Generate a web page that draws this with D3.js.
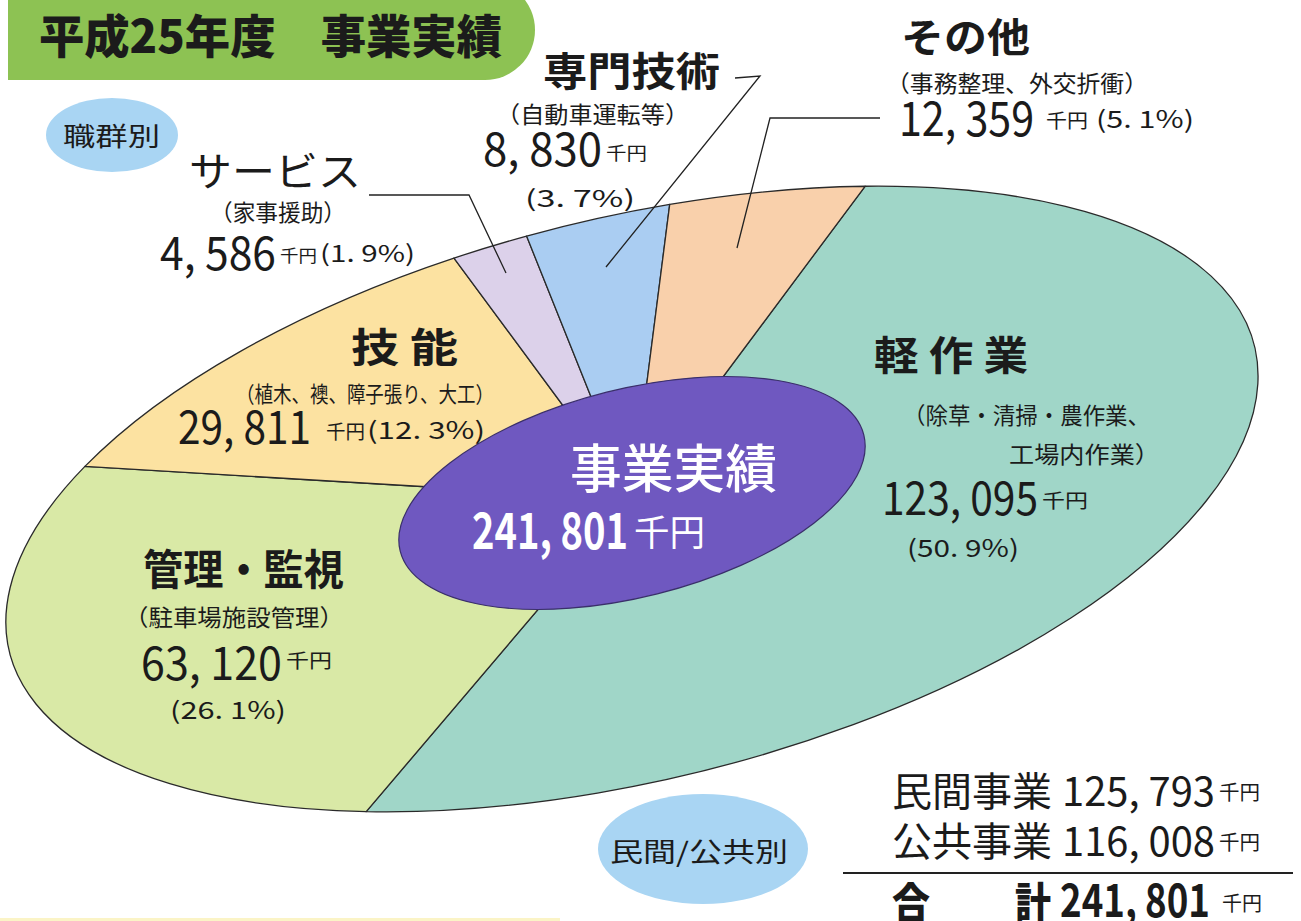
<!DOCTYPE html>
<html>
<head>
<meta charset="utf-8">
<script src="https://cdn.jsdelivr.net/npm/d3@7"></script>
<style>
body { margin: 0; background: #fff; }
svg { display: block; }
text { font-family: "Noto Sans CJK JP", "Noto Sans", sans-serif; fill: #1b1b1b; }
</style>
</head>
<body>
<div id="main"></div>
<script>
const ctx = {
    WIDTH: 1301,
    HEIGHT: 921,
};

// data (千円)
const categories = ["軽作業", "管理・監視", "技能", "サービス", "専門技術", "その他"];
const details = [
    ["（除草・清掃・農作業、", "工場内作業）"],
    ["（駐車場施設管理）"],
    ["（植木、襖、障子張り、大工）"],
    ["（家事援助）"],
    ["（自動車運転等）"],
    ["（事務整理、外交折衝）"]
];
const values = [123095, 63120, 29811, 4586, 8830, 12359];
const sliceColors = ["#a0d6c8", "#d9e9a6", "#fce2a1", "#dcd1ea", "#aacdf2", "#f9d0ab"];
const sectorNames = ["民間事業", "公共事業"];
const sectorValues = [125793, 116008];

const total = d3.sum(values);
const fmtNum = v => d3.format(",")(v).replace(/,/g, ", ");
const fmtPct = v => "(" + d3.format(".1f")(v / total * 100).replace(".", ". ") + "%)";

// tilted ellipse = unit pie stretched and rotated
const PIE = { cx: 632, cy: 499, rx: 641, ry: 281, rot: -13.8, start: 28 };
const HUB = { cx: 632, cy: 493, rx: 239, ry: 104, rot: -14.1 };

// label layout per category (x = left edge, y = baseline)
const labelLayout = [
    [ {t: "name", x: 874, y: 370, s: 40, w: 154, b: true, spaced: true},
      {t: "d0", x: 903, y: 424, s: 23, w: 247},
      {t: "d1", x: 1009, y: 463, s: 23, w: 151},
      {t: "val", x: 882, y: 515, s: 46, w: 156},
      {t: "unit", x: 1042, y: 508, s: 19, w: 46},
      {t: "pct", x: 907, y: 557, s: 24, w: 112} ],
    [ {t: "name", x: 143, y: 585, s: 42, w: 201, b: true},
      {t: "d0", x: 124, y: 626, s: 23, w: 220},
      {t: "val", x: 141, y: 680, s: 46, w: 141},
      {t: "unit", x: 286, y: 668, s: 19, w: 46},
      {t: "pct", x: 170, y: 719, s: 24, w: 116} ],
    [ {t: "name", x: 351, y: 362, s: 40, w: 107, b: true, spaced: true},
      {t: "d0", x: 236, y: 402, s: 22, w: 258},
      {t: "val", x: 178, y: 444, s: 46, w: 133},
      {t: "unit", x: 326, y: 439, s: 19, w: 39},
      {t: "pct", x: 367, y: 439, s: 24, w: 118} ],
    [ {t: "name", x: 189, y: 186, s: 40, w: 172},
      {t: "d0", x: 210, y: 221, s: 23, w: 136},
      {t: "val", x: 160, y: 270, s: 46, w: 116},
      {t: "unit", x: 280, y: 262, s: 17, w: 37},
      {t: "pct", x: 320, y: 262, s: 23, w: 95} ],
    [ {t: "name", x: 543, y: 86, s: 40, w: 177, b: true},
      {t: "d0", x: 496, y: 123, s: 23, w: 193},
      {t: "val", x: 483, y: 166, s: 46, w: 119},
      {t: "unit", x: 606, y: 160, s: 18, w: 41},
      {t: "pct", x: 525, y: 207, s: 23, w: 110} ],
    [ {t: "name", x: 901, y: 52, s: 40, w: 129, b: true},
      {t: "d0", x: 886, y: 92, s: 23, w: 262},
      {t: "val", x: 899, y: 136, s: 48, w: 135},
      {t: "unit", x: 1046, y: 128, s: 19, w: 42},
      {t: "pct", x: 1096, y: 128, s: 24, w: 98} ]
];

// leader lines from label to slice
const leaders = [
    [[369, 195], [469, 195], [506, 273]],
    [[735, 78], [760, 76], [606, 267]],
    [[880, 118], [770, 118], [737, 248]]
];

function pieceText(i, p) {
    if (p.t === "name") return p.spaced ? categories[i].split("").join(" ") : categories[i];
    if (p.t === "d0") return details[i][0];
    if (p.t === "d1") return details[i][1];
    if (p.t === "val") return fmtNum(values[i]);
    if (p.t === "unit") return "千円";
    return fmtPct(values[i]);
}

function addText(g, str, x, y, size, w, opts = {}) {
    return g.append("text")
        .attr("x", x).attr("y", y)
        .attr("font-size", size)
        .attr("font-weight", opts.weight || (opts.bold ? 700 : 400))
        .attr("textLength", w)
        .attr("lengthAdjust", "spacingAndGlyphs")
        .style("fill", opts.fill || null)
        .text(str);
}

function createViz() {
    let svgEl = d3.select("#main").append("svg")
        .attr("width", ctx.WIDTH)
        .attr("height", ctx.HEIGHT);

    svgEl.append("rect").attr("width", ctx.WIDTH).attr("height", ctx.HEIGHT).attr("fill", "#fff");

    // title banner
    svgEl.append("rect")
        .attr("x", 8).attr("y", -20).attr("width", 527).attr("height", 100)
        .attr("rx", 50).attr("fill", "#8dc253");
    svgEl.append("rect").attr("x", 8).attr("y", -20).attr("width", 100).attr("height", 100).attr("fill", "#8dc253");
    addText(svgEl, "平成25年度　事業実績", 39, 53, 46, 463, {weight: 900});

    // pie
    let pie = d3.pie().sort(null).value(d => d)
        .startAngle(PIE.start * Math.PI / 180)
        .endAngle(PIE.start * Math.PI / 180 + 2 * Math.PI);
    let arc = d3.arc().innerRadius(0).outerRadius(100);
    let pieG = svgEl.append("g")
        .attr("transform", `translate(${PIE.cx},${PIE.cy}) rotate(${PIE.rot}) scale(${PIE.rx / 100},${PIE.ry / 100})`);
    pieG.selectAll("path")
        .data(pie(values))
        .enter()
        .append("path")
        .attr("d", arc)
        .attr("fill", (d, i) => sliceColors[i])
        .attr("stroke", "#2a2a2a")
        .attr("stroke-width", 1.3)
        .attr("stroke-linejoin", "round")
        .attr("vector-effect", "non-scaling-stroke");

    // leader lines
    svgEl.append("g").selectAll("path")
        .data(leaders)
        .enter()
        .append("path")
        .attr("d", d => d3.line()(d))
        .attr("fill", "none")
        .attr("stroke", "#222")
        .attr("stroke-width", 1.3);

    // centre hub
    svgEl.append("ellipse")
        .attr("cx", HUB.cx).attr("cy", HUB.cy).attr("rx", HUB.rx).attr("ry", HUB.ry)
        .attr("transform", `rotate(${HUB.rot},${HUB.cx},${HUB.cy})`)
        .attr("fill", "#6f58c0")
        .attr("stroke", "#3a2f6a").attr("stroke-width", 1.2);
    addText(svgEl, "事業実績", 570, 488, 52, 207, {fill: "#fff", weight: 500});
    addText(svgEl, fmtNum(total), 472, 549, 50, 156, {fill: "#fff", bold: true});
    addText(svgEl, "千円", 634, 546, 36, 71, {fill: "#fff"});

    // slice labels
    let labelG = svgEl.append("g");
    labelLayout.forEach((pieces, i) => {
        pieces.forEach(p => addText(labelG, pieceText(i, p), p.x, p.y, p.s, p.w, {bold: p.b}));
    });

    // badges
    svgEl.append("ellipse").attr("cx", 112).attr("cy", 135).attr("rx", 66).attr("ry", 37).attr("fill", "#a9d5f3");
    addText(svgEl, "職群別", 63, 146, 26, 97);
    svgEl.append("ellipse").attr("cx", 703).attr("cy", 849).attr("rx", 105).attr("ry", 55).attr("fill", "#a9d5f3");
    addText(svgEl, "民間/公共別", 610, 862, 27, 178);

    // sector summary
    let sumG = svgEl.append("g");
    let rowY = [806, 856];
    sectorNames.forEach((name, i) => {
        addText(sumG, name, 892, rowY[i], 40, 160);
        addText(sumG, fmtNum(sectorValues[i]), 1062, rowY[i], 40, 153);
        addText(sumG, "千円", 1219, rowY[i] - 6, 20, 41);
    });
    sumG.append("line")
        .attr("x1", 843).attr("x2", 1293).attr("y1", 873).attr("y2", 873)
        .attr("stroke", "#222").attr("stroke-width", 2);
    addText(sumG, "合", 892, 918, 42, 38, {weight: 900});
    addText(sumG, "計", 1015, 918, 42, 36, {weight: 900});
    addText(sumG, fmtNum(d3.sum(sectorValues)), 1060, 917, 46, 150, {bold: true});
    addText(sumG, "千円", 1222, 911, 20, 40);

    svgEl.append("rect").attr("x", 0).attr("y", 918).attr("width", 560).attr("height", 3).attr("fill", "#fbf4c6");
}

createViz();
</script>
</body>
</html>
